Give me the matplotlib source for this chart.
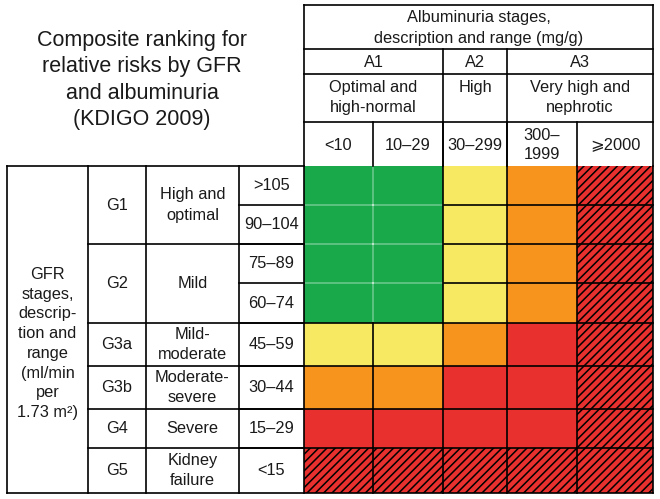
import matplotlib
matplotlib.use("Agg")
import matplotlib.pyplot as plt
from matplotlib.patches import Rectangle

plt.rcParams['font.family'] = ['Liberation Sans', 'DejaVu Sans']
plt.rcParams['hatch.linewidth'] = 1.1

# ---------------- data ----------------
title = "Composite ranking for\nrelative risks by GFR\nand albuminuria\n(KDIGO 2009)"
alb_header = "Albuminuria stages,\ndescription and range (mg/g)"
alb_stages = ["A1", "A2", "A3"]
alb_descriptions = ["Optimal and\nhigh-normal", "High", "Very high and\nnephrotic"]
alb_stage_span = [2, 1, 2]          # number of range columns per stage
alb_ranges = ["<10", "10–29", "30–299", "300–\n1999", "⩾2000"]

gfr_header = "GFR\nstages,\ndescrip-\ntion and\nrange\n(ml/min\nper\n1.73 m²)"
gfr_stages = ["G1", "G2", "G3a", "G3b", "G4", "G5"]
gfr_descriptions = ["High and\noptimal", "Mild", "Mild-\nmoderate", "Moderate-\nsevere",
                    "Severe", "Kidney\nfailure"]
gfr_stage_span = [2, 2, 1, 1, 1, 1]  # number of range rows per stage
gfr_ranges = [">105", "90–104", "75–89", "60–74", "45–59", "30–44", "15–29", "<15"]

# risk level: 0 low (green), 1 moderate (yellow), 2 high (orange),
#             3 very high (red), 4 highest (red, hatched)
risk = [
    [0, 0, 1, 2, 4],
    [0, 0, 1, 2, 4],
    [0, 0, 1, 2, 4],
    [0, 0, 1, 2, 4],
    [1, 1, 2, 3, 4],
    [2, 2, 3, 3, 4],
    [3, 3, 3, 3, 4],
    [4, 4, 4, 4, 4],
]

# ---------------- layout / style ----------------
level_colors = ["#19a94b", "#f7ea62", "#f7941e", "#e8302e", "#e8302e"]
col_edges = [304, 373, 443, 507, 577, 653]           # heat-grid columns
row_edges = [166, 205, 244, 283, 323, 366, 409, 448, 493]
hdr_rows = [5, 49, 74, 122, 166]                    # header rows
left_cols = [7, 88, 146, 239, 304]                  # left table columns
LW = 1.2
FS = 11.8
LS = 1.42
TXT = "#1a1a1a"

fig = plt.figure(figsize=(6.60, 4.99), dpi=100)
ax = fig.add_axes([0, 0, 1, 1])
ax.set_xlim(0, 660)
ax.set_ylim(499, 0)
ax.axis("off")

def line(x0, y0, x1, y1, color="black", lw=LW, alpha=1.0):
    ax.plot([x0, x1], [y0, y1], color=color, lw=lw, alpha=alpha,
            solid_capstyle="projecting", zorder=5)

def txt(x, y, s, **kw):
    kw.setdefault("ha", "center")
    kw.setdefault("va", "center")
    kw.setdefault("fontsize", FS)
    kw.setdefault("linespacing", LS)
    kw.setdefault("color", TXT)
    ax.text(x, y, s, **kw)

# ---------- heat cells ----------
nr, nc = len(risk), len(risk[0])
for r in range(nr):
    for c in range(nc):
        lvl = risk[r][c]
        x0, x1 = col_edges[c], col_edges[c + 1]
        y0, y1 = row_edges[r], row_edges[r + 1]
        ax.add_patch(Rectangle((x0, y0), x1 - x0, y1 - y0,
                               facecolor=level_colors[lvl],
                               edgecolor="black" if lvl == 4 else "none",
                               linewidth=0, hatch="////" if lvl == 4 else None,
                               zorder=1))

# internal grid lines (faint inside green block)
for r in range(nr):
    for c in range(1, nc):
        x = col_edges[c]
        both_green = risk[r][c - 1] == 0 and risk[r][c] == 0
        if both_green:
            line(x, row_edges[r], x, row_edges[r + 1], color="white", lw=1.2, alpha=0.35)
        else:
            line(x, row_edges[r], x, row_edges[r + 1])
for r in range(1, nr):
    y = row_edges[r]
    for c in range(nc):
        both_green = risk[r - 1][c] == 0 and risk[r][c] == 0
        if both_green:
            line(col_edges[c], y, col_edges[c + 1], y, color="white", lw=1.2, alpha=0.35)
        else:
            line(col_edges[c], y, col_edges[c + 1], y)

# outer box of heat area
line(col_edges[0], row_edges[0], col_edges[0], row_edges[-1])
line(col_edges[-1], row_edges[0], col_edges[-1], row_edges[-1])
line(left_cols[0], row_edges[-1], col_edges[-1], row_edges[-1])

# ---------- header table ----------
X0, X1 = col_edges[0], col_edges[-1]
line(X0, hdr_rows[0], X1, hdr_rows[0])
line(X0, hdr_rows[0], X0, hdr_rows[-1])
line(X1, hdr_rows[0], X1, hdr_rows[-1])
for y in hdr_rows[1:4]:
    line(X0, y, X1, y)
ci = 0
stage_bounds = []
for span in alb_stage_span:
    stage_bounds.append((ci, ci + span))
    ci += span
for (a, b) in stage_bounds[1:]:
    line(col_edges[a], hdr_rows[1], col_edges[a], hdr_rows[-1])
for c in range(1, nc):
    line(col_edges[c], hdr_rows[3], col_edges[c], hdr_rows[-1])

txt((X0 + X1) / 2, (hdr_rows[0] + hdr_rows[1]) / 2 + 1, alb_header)
for (a, b), st, de in zip(stage_bounds, alb_stages, alb_descriptions):
    xc = (col_edges[a] + col_edges[b]) / 2
    txt(xc, (hdr_rows[1] + hdr_rows[2]) / 2 + 1, st)
    txt(xc, hdr_rows[2] + 6, de, va="top")
for c, rg in enumerate(alb_ranges):
    xc = (col_edges[c] + col_edges[c + 1]) / 2
    txt(xc, (hdr_rows[3] + hdr_rows[4]) / 2 + 1, rg, linespacing=1.35)

# ---------- left table ----------
Y0, Y1 = row_edges[0], row_edges[-1]
line(left_cols[0], Y0, left_cols[-1], Y0)
line(left_cols[0], Y0, left_cols[0], Y1)
for x in left_cols[1:4]:
    line(x, Y0, x, Y1)
ri = 0
gbounds = []
for span in gfr_stage_span:
    gbounds.append((ri, ri + span))
    ri += span
for (a, b) in gbounds[1:]:
    line(left_cols[1], row_edges[a], left_cols[-1], row_edges[a])
for r in range(1, nr):
    line(left_cols[3], row_edges[r], left_cols[-1], row_edges[r])

txt((left_cols[0] + left_cols[1]) / 2, (Y0 + Y1) / 2 + 14, gfr_header, linespacing=1.39)
for (a, b), st, de in zip(gbounds, gfr_stages, gfr_descriptions):
    yc = (row_edges[a] + row_edges[b]) / 2
    txt((left_cols[1] + left_cols[2]) / 2, yc, st)
    txt((left_cols[2] + left_cols[3]) / 2, yc, de)
for r, rg in enumerate(gfr_ranges):
    yc = (row_edges[r] + row_edges[r + 1]) / 2
    txt((left_cols[3] + left_cols[4]) / 2, yc, rg)

# ---------- title ----------
txt(142, 80, title, fontsize=15.5, linespacing=1.33)

fig.savefig("out.png", dpi=100)
